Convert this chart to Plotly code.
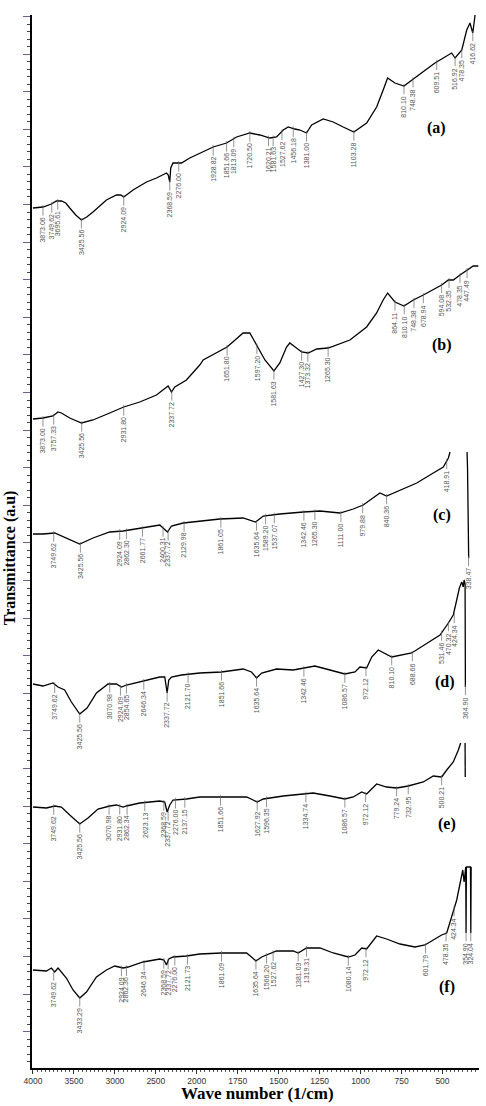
import numpy as np
import plotly.graph_objects as go

# ---------------- data (wavenumber in 1/cm, transmittance in a.u.) ----------------
a_wn = [4000,3878,3775,3714,3653,3600,3551,3478,3408,3344,3267,3185,3103,2981,2928,2892,2778,2614,2492,2370,
        2348,2330,2318,2290,2187,2086,1982,1900,1818,1757,1676,1615,1554,1513,1472,1442,1401,1370,1330,1299,
        1228,1167,1106,1041,963,902,862,835,790,735,678,617,546,444,423,382,352,332,315,301]
a_T = [860,861,864,867,867,865,860,853,848,851,856,862,868,873,873,871,878,886,890,895,
       893,886,900,905,905,910,915,921,925,931,935,933,930,931,938,941,939,938,935,943,
       949,946,941,936,945,961,978,990,985,982,989,996,1005,1015,1010,1018,1038,1045,1035,1053]
a_labels = ["3873.06","3749.62","3695.61","3425.56","2924.09","2368.59","2276.00","1928.82","1851.66","1813.09",
            "1720.50","1620.21","1581.63","1527.62","1456.18","1381.00","1103.28","810.10","748.38","609.51",
            "516.92","478.35","416.62"]
a_label_wn = [3878,3771,3698,3409,2892,2330,2220,1900,1818,1774,1676,1562,1534,1480,1411,1330,1041,735,680,535,
              423,382,315]

b_wn = [4000,3878,3756,3694,3653,3551,3408,3267,3063,2892,2696,2492,2350,2309,2268,2126,1982,1961,1815,1717,
        1676,1635,1584,1529,1493,1452,1432,1360,1320,1268,1198,1065,963,902,862,835,790,735,678,617,
        556,505,464,434,393,352,312,281]
b_T = [649,650,652,656,655,650,645,648,655,661,666,673,682,676,681,688,703,708,721,735,
       735,723,708,697,705,721,725,716,715,719,720,728,741,755,768,775,766,762,768,773,
       778,783,788,788,793,798,802,802]
b_labels = ["3873.00","3757.33","3425.56","2931.80","2337.72","1651.80","1597.20","1581.63","1427.30","1373.32",
            "1265.30","864.11","810.10","748.38","678.94","594.08","532.35","478.35","447.49"]
b_label_wn = [3878,3747,3405,2892,2305,1815,1633,1529,1360,1322,1198,790,733,674,617,505,460,393,350]

c_wn = [4000,3878,3735,3592,3429,3267,3063,2900,2656,2452,2358,2309,2166,1982,1859,1717,1641,1594,1493,1350,
        1248,1126,1045,984,882,841,759,657,556,495,464,454,None,350,347,340]
c_T = [534,534,535,530,524,530,536,537,540,543,536,542,545,547,549,550,546,552,554,556,
       557,555,559,563,575,572,578,585,595,601,610,616,None,616,600,510]
c_labels = ["3749.62","3425.56","2924.09","2862.30","2661.77","2400.31","2337.72","2129.98","1861.05","1635.64",
            "1589.20","1537.07","1342.46","1265.30","1111.00","979.88","840.36","418.91","338.47"]
c_label_wn = [3747,3421,2941,2859,2663,2412,2350,2155,1853,1635,1580,1527,1346,1279,1120,987,841,474,341]

d_wn = [4000,3878,3756,3694,3613,3531,3429,3340,3225,3083,2981,2920,2859,2656,2452,2391,2362,2342,2309,2187,
        1982,1849,1717,1666,1635,1604,1513,1411,1279,1187,1096,1034,1004,963,932,892,810,688,596,515,
        464,434,413,397,382,373,368,362,360]
d_T = [384,382,385,381,378,366,354,360,375,384,384,381,383,387,391,391,375,388,391,393,
       395,396,399,396,390,395,399,398,402,398,394,396,401,400,411,418,411,415,425,433,
       445,453,468,480,486,481,488,484,381]
d_labels = ["3749.62","3425.56","3070.98","2924.09","2854.65","2646.34","2337.72","2121.70","1851.66","1635.64",
            "1342.46","1086.57","972.12","810.10","688.66","531.46","470.32","424.34","364.90"]
d_label_wn = [3735,3429,3063,2932,2859,2647,2362,2106,1849,1635,1346,1096,967,810,684,505,464,428,360]

e_wn = [4000,3836,3735,3653,3551,3429,3328,3206,3063,2981,2900,2859,2696,2452,2391,2362,2330,2290,2126,1982,
        1859,1696,1656,1631,1594,1472,1350,1289,1187,1096,1045,993,963,902,841,780,709,617,556,505,
        474,434,403,389,None,362,361]
e_T = [261,260,262,261,253,244,250,259,262,263,261,262,265,267,266,256,263,268,269,271,
       271,271,268,266,269,272,274,275,272,269,271,276,274,284,281,280,282,286,292,291,
       298,306,318,325,None,325,291]
e_labels = ["3749.62","3425.56","3070.98","2931.80","2862.34","2623.13","2368.59","2337.72","2276.00","2137.15",
            "1851.66","1627.92","1596.35","1334.74","1086.57","972.12","779.24","732.95","500.21"]
e_label_wn = [3747,3429,3071,2941,2851,2635,2403,2350,2260,2146,1855,1631,1574,1334,1096,969,780,709,505]

f_wn = [4000,3836,3775,3735,3694,3592,3511,3429,3347,3225,3103,3002,2900,2839,2656,2452,2400,2370,2342,2290,
        2126,1982,1849,1696,1666,1639,1604,1513,1411,1381,1330,1248,1167,1075,1034,993,963,902,841,759,
        668,607,556,505,474,444,429,413,397,387,376,368,362,358,356,354,329,327,325]
f_T = [98,97,100,96,100,90,78,70,76,91,98,102,100,101,106,109,108,103,109,111,
       112,114,115,115,111,107,111,117,117,115,120,120,115,111,113,120,119,132,129,124,
       121,123,128,133,135,151,160,168,181,191,198,186,201,201,135,201,201,135,201]
f_labels = ["3749.62","3433.29","2924.09","2862.36","2646.34","2368.59","2337.72","2276.00","2121.73","1861.09",
            "1635.64","1566.20","1527.62","1381.03","1319.31","1080.14","972.12","601.79","478.35","424.34",
            "354.90","324.04"]
f_label_wn = [3747,3429,2920,2859,2644,2403,2350,2268,2114,1849,1639,1574,1534,1381,1330,1075,967,603,478,429,
              356,327]

panel_names = ["(a)", "(b)", "(c)", "(d)", "(e)", "(f)"]
panel_name_wn = [535, 505, 505, 485, 474, 474]
panel_name_T = [940, 723, 553, 386, 244, 81]

tick_wn = [4000, 3500, 3000, 2500, 2000, 1750, 1500, 1250, 1000, 750, 500]


# --------- x scale: 4000-2000 compressed 2x (instrument style) ---------
def to_u(w):
    w = np.array([np.nan if v is None else v for v in w], float)
    return np.where(w >= 2000, (4000.0 - w) / 2.0, 3000.0 - w)


def to_arr(v):
    return np.array([np.nan if x is None else x for x in v], float)


panels = [
    (a_wn, a_T, a_labels, a_label_wn),
    (b_wn, b_T, b_labels, b_label_wn),
    (c_wn, c_T, c_labels, c_label_wn),
    (d_wn, d_T, d_labels, d_label_wn),
    (e_wn, e_T, e_labels, e_label_wn),
    (f_wn, f_T, f_labels, f_label_wn),
]

fig = go.Figure()
annotations = []

LABEL_SIZE = 7
for wn, T, labs, lwn in panels:
    u = to_u(wn)
    t = to_arr(T)
    fig.add_trace(go.Scatter(x=u, y=t, mode="lines", connectgaps=False,
                             line=dict(color="black", width=1.3), hoverinfo="skip"))
    m = ~np.isnan(u)
    uu, tt = u[m], t[m]
    for lab, lw in zip(labs, lwn):
        ul = float(to_u([lw])[0])
        yi = float(np.interp(ul, uu, tt))
        near = tt[np.abs(uu - ul) <= 6]
        if near.size:
            yi = min(yi, float(near.min()))
        nd = sum(ch.isdigit() for ch in lab)
        L = LABEL_SIZE * (0.556 * nd + 0.278 * lab.count("."))
        annotations.append(dict(
            x=ul, y=yi + 2, xref="x", yref="y", text=lab, textangle=-90,
            showarrow=True, arrowhead=0, arrowwidth=0.7, arrowcolor="#666",
            ax=0, ay=9 + L / 2 + 3, standoff=0,
            font=dict(family="Liberation Sans", size=LABEL_SIZE, color="#555"),
        ))

for nm, nw, nt in zip(panel_names, panel_name_wn, panel_name_T):
    annotations.append(dict(
        x=float(to_u([nw])[0]), y=nt, xref="x", yref="y", text=nm, showarrow=False,
        font=dict(family="Liberation Serif", size=16, color="black", weight="bold"),
    ))

annotations.append(dict(
    x=0.505, y=0, xref="paper", yref="paper", yshift=-25, text="Wave number (1/cm)",
    showarrow=False, yanchor="middle",
    font=dict(family="Liberation Serif", size=17, color="black", weight="bold"),
))
annotations.append(dict(
    x=0, y=0.484, xref="paper", yref="paper", xshift=-22, text="Transmittance (a.u)",
    showarrow=False, textangle=-90, xanchor="center", yanchor="middle",
    font=dict(family="Liberation Serif", size=16, color="black", weight="bold"),
))

fig.update_layout(
    width=486, height=1106,
    margin=dict(l=32, r=7, t=15, b=38),
    paper_bgcolor="white", plot_bgcolor="white",
    showlegend=False,
    annotations=annotations,
)

fig.update_xaxes(
    range=[-6, 2723],
    tickmode="array", tickvals=to_u(tick_wn), ticktext=[str(v) for v in tick_wn],
    ticks="outside", ticklen=4, tickcolor="#333", tickwidth=1,
    showline=True, linecolor="black", linewidth=1.5,
    tickfont=dict(family="Liberation Sans", size=8.5, color="#333"),
    showgrid=False, zeroline=False,
    minor=dict(tick0=0, dtick=25, ticks="outside", ticklen=2, tickcolor="#555"),
)
fig.update_yaxes(
    range=[0, 1053],
    showticklabels=False,
    tick0=36.3, dtick=37.6, ticks="outside", ticklen=7, tickcolor="#7a5a8a", tickwidth=1,
    showline=True, linecolor="black", linewidth=1.5,
    showgrid=False, zeroline=False,
    minor=dict(tick0=36.3, dtick=7.52, ticks="outside", ticklen=3, tickcolor="#444"),
)

fig.write_html("out.html")
